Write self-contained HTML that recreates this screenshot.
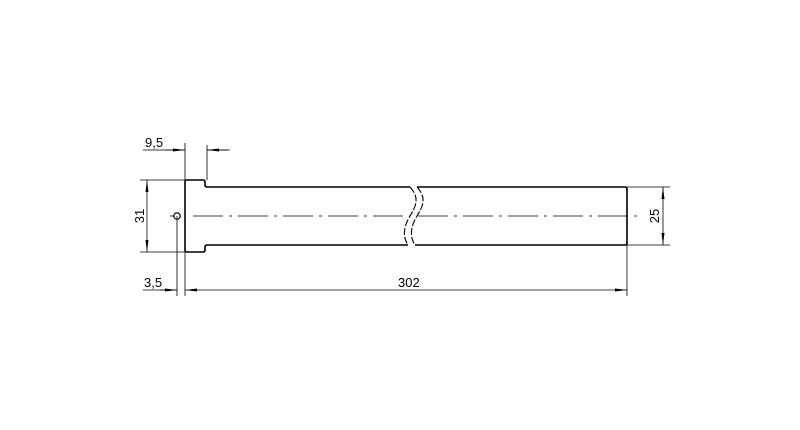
<!DOCTYPE html>
<html><head><style>body{margin:0;background:#fff}svg{display:block}text{font-family:"Liberation Sans",sans-serif;font-size:13px;fill:#000}</style></head>
<body>
<svg width="800" height="430" viewBox="0 0 800 430">
<defs>
<marker id="a" viewBox="0 0 12 6" refX="12" refY="3" markerWidth="12" markerHeight="6" orient="auto-start-reverse" markerUnits="userSpaceOnUse"><path d="M0,1.5 L12,3 L0,4.5z" fill="#000"/></marker>
</defs>
<g fill="none" stroke="#000">
<!-- body outline -->
<path d="M410,187 H207 Q205,187 205,185 V182 Q205,180 203,180 H187 Q185,180 185,182 V250 Q185,252 187,252 H203 Q205,252 205,250 V247 Q205,245 207,245 H408" stroke-width="1.6"/>
<path d="M417,187 H625 Q627,187 627,189 V243 Q627,245 625,245 H415" stroke-width="1.6"/>
<!-- break curves -->
<path d="M410,187 C420,198 416,206 410,216 C404,226 402,236 408,245" stroke-width="1.1" stroke-dasharray="7 2"/>
<path d="M417,187 C427,198 423,206 417,216 C411,226 409,236 415,245" stroke-width="1.1" stroke-dasharray="7 2"/>
<!-- centerline -->
<path d="M193,216 H410 M418,216 H640" stroke-width="0.8" stroke-dasharray="30 6 3 6"/>
<circle cx="177" cy="216" r="3.2" stroke-width="1.2"/>
<path d="M170,216 H174" stroke-width="0.8"/>
<!-- extension lines -->
<g stroke-width="0.8">
<path d="M185,143 V296"/>
<path d="M207,145 V180"/>
<path d="M177,216 V296"/>
<path d="M140,180 H185 M140,252 H185"/>
<path d="M627,245 V296"/>
<path d="M627,187 H670 M627,245 H670"/>
<path d="M143,150 H185 M207,150 H230" />
<path d="M143,290 H177"/>
</g>
<!-- dimension lines -->
<g stroke-width="0.8">
<path d="M165,150 H185" marker-end="url(#a)"/>
<path d="M227,150 H207" marker-end="url(#a)"/>
<path d="M147,180 V252" marker-start="url(#a)" marker-end="url(#a)"/>
<path d="M160,290 H177" marker-end="url(#a)"/>
<path d="M185,290 H627" marker-start="url(#a)" marker-end="url(#a)"/>
<path d="M663,187 V245" marker-start="url(#a)" marker-end="url(#a)"/>
</g>
</g>
<text x="145" y="147">9,5</text>
<text x="144" y="287">3,5</text>
<text x="398" y="287">302</text>
<text transform="translate(144,216) rotate(-90)" text-anchor="middle">31</text>
<text transform="translate(659,216) rotate(-90)" text-anchor="middle">25</text>
</svg>
</body></html>
